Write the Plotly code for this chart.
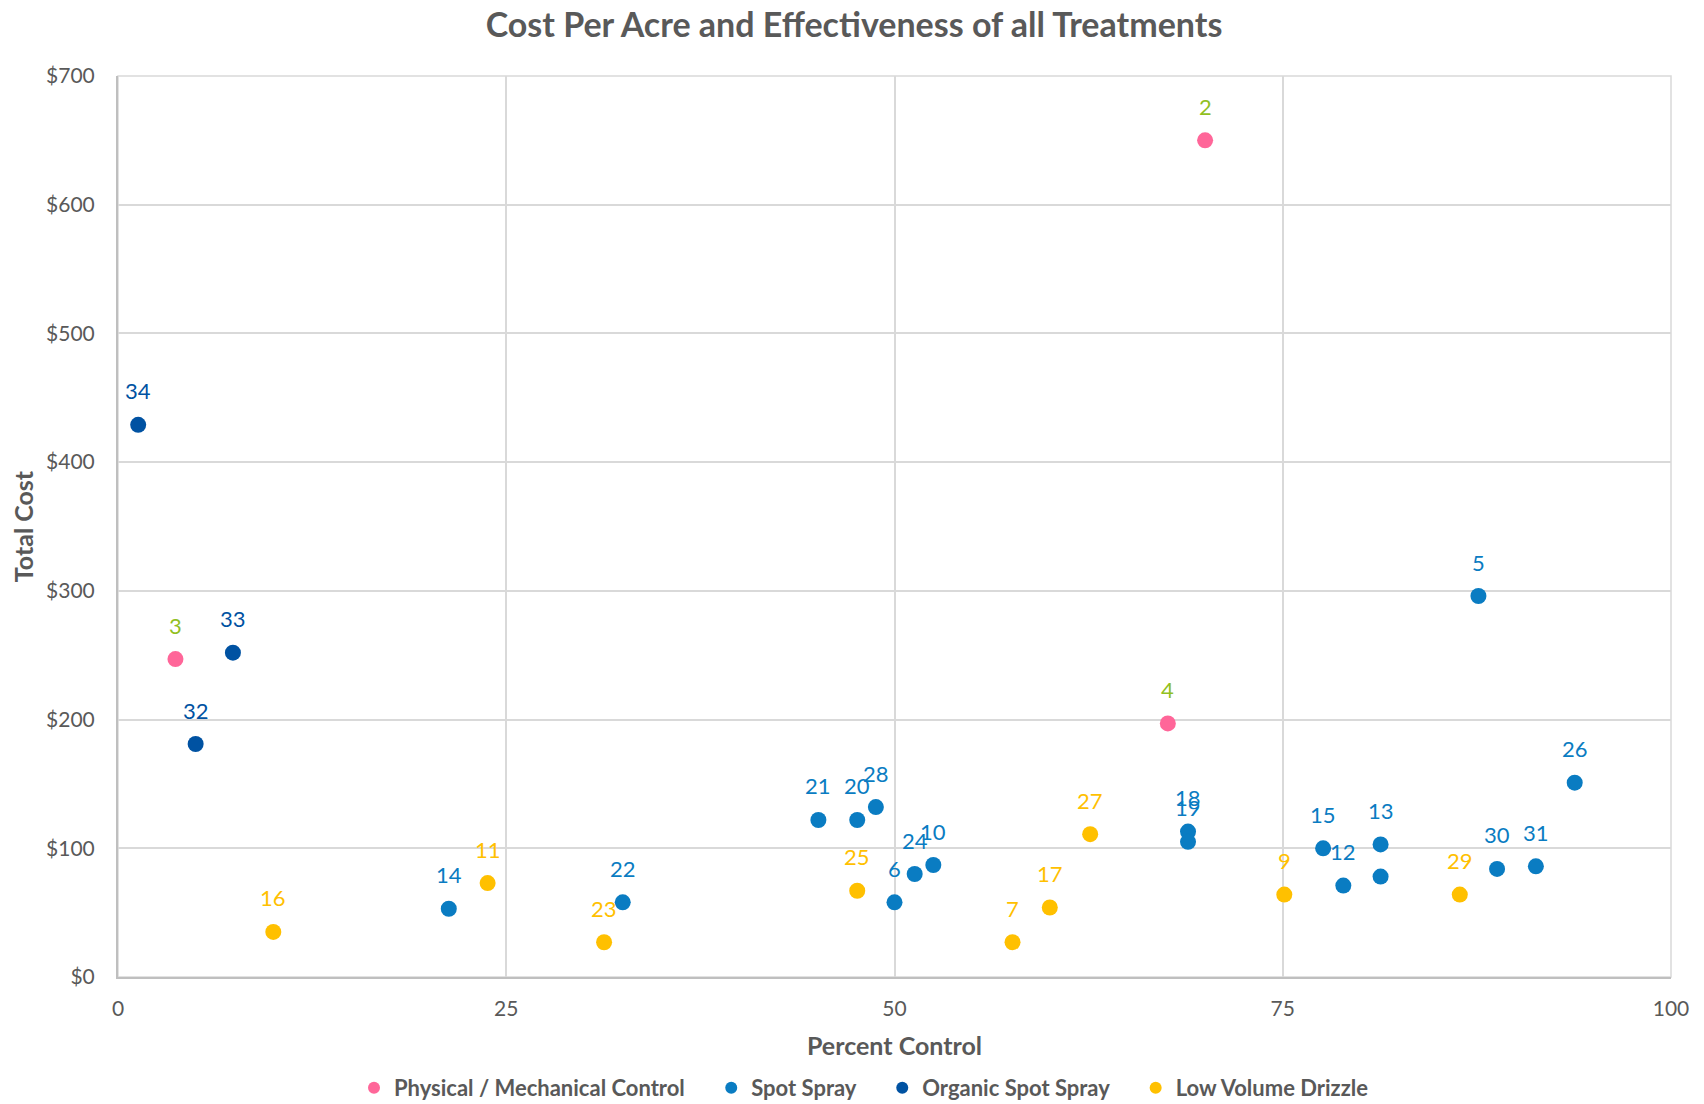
import plotly.graph_objects as go

# ---- data ----
phys_labels = ["2", "3", "4"]
phys_x = [70.0, 3.7, 67.6]
phys_y = [650, 247, 197]

spot_labels = ["5", "6", "10", "12", "13", "", "14", "15", "18", "19", "20", "21", "22", "24", "26", "28", "30", "31"]
spot_x = [87.6, 50.0, 52.5, 78.9, 81.3, 81.3, 21.3, 77.6, 68.9, 68.9, 47.6, 45.1, 32.5, 51.3, 93.8, 48.8, 88.8, 91.3]
spot_y = [296, 58, 87, 71, 103, 78, 53, 100, 113, 105, 122, 122, 58, 80, 151, 132, 84, 86]

org_labels = ["32", "33", "34"]
org_x = [5.0, 7.4, 1.3]
org_y = [181, 252, 429]

drz_labels = ["7", "9", "11", "16", "17", "23", "25", "27", "29"]
drz_x = [57.6, 75.1, 23.8, 10.0, 60.0, 31.3, 47.6, 62.6, 86.4]
drz_y = [27, 64, 73, 35, 54, 27, 67, 111, 64]

x_ticks = [0, 25, 50, 75, 100]
y_ticks = [0, 100, 200, 300, 400, 500, 600, 700]

PAD = "\u00a0" * 4
series = [
    ("Physical / Mechanical Control", phys_x, phys_y, phys_labels, "#FF6699", "#92C01F"),
    ("Spot Spray", spot_x, spot_y, spot_labels, "#0A7CC2", "#0A7CC2"),
    ("Organic Spot Spray", org_x, org_y, org_labels, "#0052A2", "#0052A2"),
    ("Low Volume Drizzle", drz_x, drz_y, drz_labels, "#FFC000", "#FFC000"),
]

FONT = "Lato"
GREY = "#595959"
W, H = 1696, 1096  # page has an 8px body margin

fig = go.Figure()
annotations = []
for i, (name, xs, ys, labels, mcol, tcol) in enumerate(series):
    fig.add_trace(go.Scatter(
        x=xs, y=ys, mode="markers",
        name=name + (PAD if i < len(series) - 1 else ""),
        marker=dict(size=16, color=mcol),
        hoverinfo="skip",
    ))
    for xv, yv, lb in zip(xs, ys, labels):
        if lb:
            annotations.append(dict(
                x=xv, y=yv, xref="x", yref="y", text=lb, showarrow=False,
                yshift=34, font=dict(family=FONT, size=22, color=tcol),
            ))

fig.update_layout(
    width=W, height=H,
    paper_bgcolor="white", plot_bgcolor="white",
    margin=dict(l=110, r=33, t=68, b=127, autoexpand=False),
    title=dict(
        text="<b>Cost Per Acre and Effectiveness of all Treatments</b>",
        x=(854 - 8) / W, xanchor="center", y=1 - 17 / H, yanchor="middle",
        xref="container", yref="container",
        font=dict(family=FONT, size=34, color=GREY),
    ),
    font=dict(family=FONT, color=GREY),
    showlegend=True,
    legend=dict(
        orientation="h", x=(864 - 8) / W, xanchor="center", xref="container",
        y=1 - 1080 / H, yanchor="middle", yref="container",
        font=dict(family=FONT, size=22, color=GREY, weight="bold"),
        itemsizing="constant", bgcolor="rgba(0,0,0,0)",
    ),
    annotations=annotations,
)

fig.update_xaxes(
    range=[0, 100], tickvals=x_ticks, ticktext=[str(v) for v in x_ticks],
    showgrid=True, gridcolor="#D9D9D9", gridwidth=1.5,
    showline=True, linecolor="#BFBFBF", linewidth=2, mirror=False,
    zeroline=False, ticks="", ticklabelstandoff=12, automargin=False,
    tickfont=dict(family=FONT, size=21, color=GREY),
    title=dict(text="<b>Percent Control</b>", standoff=18,
               font=dict(family=FONT, size=25, color=GREY)),
)
fig.update_yaxes(
    range=[0, 700], tickvals=y_ticks, ticktext=[f"${v}" for v in y_ticks],
    showgrid=True, gridcolor="#D9D9D9", gridwidth=1.5,
    showline=True, linecolor="#BFBFBF", linewidth=2, mirror=False,
    zeroline=False, ticks="", ticklabelstandoff=17, automargin=False,
    tickfont=dict(family=FONT, size=21, color=GREY),
    title=dict(text="<b>Total Cost</b>", standoff=18,
               font=dict(family=FONT, size=25, color=GREY)),
)

# plot area border (top/right) like the reference
fig.add_shape(type="rect", xref="paper", yref="paper", x0=0, y0=0, x1=1, y1=1,
              line=dict(color="#D9D9D9", width=1.5), layer="below")

fig.write_html("out.html")
